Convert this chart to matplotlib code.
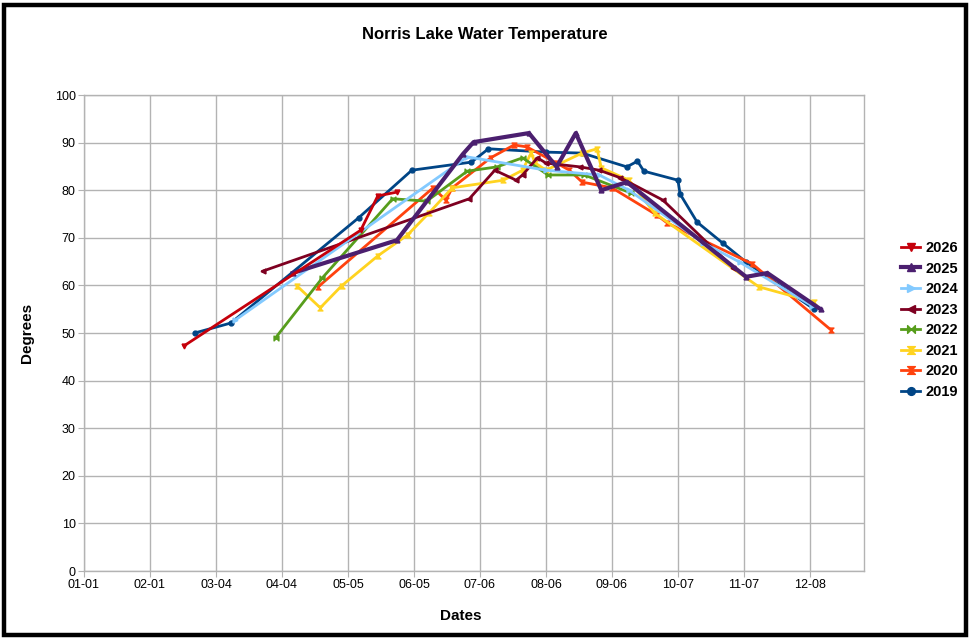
import datetime as dt
import numpy as np
import matplotlib
matplotlib.use("Agg")
import matplotlib.pyplot as plt
from matplotlib.path import Path
from matplotlib.patches import Rectangle

plt.rcParams['font.family'] = ['Liberation Sans', 'DejaVu Sans']

# day of year (0 = Jan 1) and water temperature (F) for each season
days_2019 = [52, 69, 129, 154, 182, 190, 217, 234, 255, 260, 263, 279, 280, 288, 300, 311, 343]
temp_2019 = [50.0, 52.1, 74.2, 84.2, 85.9, 88.7, 88.0, 87.8, 84.9, 86.1, 84.0, 82.1, 79.2, 73.3, 68.9, 64.9, 55.0]

days_2020 = [110, 164, 170, 173, 191, 202, 208, 222, 228, 234, 248, 269, 274, 314, 351]
temp_2020 = [59.7, 80.5, 77.9, 80.5, 86.8, 89.5, 89.1, 85.7, 84.2, 81.7, 80.5, 74.8, 73.1, 64.5, 50.6]

days_2021 = [100, 111, 121, 138, 152, 162, 173, 197, 206, 210, 212, 217, 234, 241, 243, 256, 268, 317, 343]
temp_2021 = [59.9, 55.3, 59.9, 66.2, 70.6, 75.2, 80.5, 82.1, 84.2, 87.8, 85.7, 84.2, 87.8, 88.7, 84.7, 82.1, 75.2, 59.7, 56.5]

days_2022 = [90, 112, 145, 161, 180, 194, 206, 218, 235, 257]
temp_2022 = [49.0, 61.6, 78.2, 77.7, 84.0, 84.9, 86.8, 83.2, 83.2, 79.4]

days_2023 = [84, 181, 193, 203, 206, 213, 217, 233, 242, 252, 272, 305]
temp_2023 = [63.0, 78.2, 84.2, 82.1, 83.2, 86.8, 85.7, 84.9, 84.2, 82.6, 77.9, 63.7]

days_2024 = [71, 180, 217, 242, 256, 291, 308, 342]
temp_2024 = [52.7, 87.0, 84.2, 83.2, 80.0, 68.9, 64.9, 55.7]

days_2025 = [98, 147, 178, 183, 209, 222, 231, 243, 255, 311, 321, 346]
temp_2025 = [62.6, 69.5, 87.6, 90.1, 92.0, 84.9, 92.0, 80.0, 81.7, 61.8, 62.6, 55.0]

days_2026 = [47, 130, 138, 147]
temp_2026 = [47.3, 71.6, 78.8, 79.6]

years = ["2019", "2020", "2021", "2022", "2023", "2024", "2025", "2026"]
colors = ["#004586", "#ff420e", "#ffd320", "#579d1c", "#7e0021", "#83caff", "#4b1f6f", "#c5000b"]

# custom marker shapes (hourglass / bowtie like the spreadsheet symbols)
hourglass = Path([(-1, 1), (1, 1), (-1, -1), (1, -1), (-1, 1)],
                 [Path.MOVETO, Path.LINETO, Path.LINETO, Path.LINETO, Path.CLOSEPOLY])
bowtie = Path([(-1, 1), (-1, -1), (1, 1), (1, -1), (-1, 1)],
              [Path.MOVETO, Path.LINETO, Path.LINETO, Path.LINETO, Path.CLOSEPOLY])
markers = ["o", hourglass, hourglass, bowtie, "<", ">", "^", "v"]

series = [
    (days_2019, temp_2019), (days_2020, temp_2020), (days_2021, temp_2021),
    (days_2022, temp_2022), (days_2023, temp_2023), (days_2024, temp_2024),
    (days_2025, temp_2025), (days_2026, temp_2026),
]

fig = plt.figure(figsize=(9.72, 6.4), dpi=100)
ax = fig.add_axes([84 / 972, 1 - 571 / 640, 780 / 972, 476 / 640])

lines = {}
for year, (x, y), c, m in zip(years, series, colors, markers):
    lw = 3.0 if year == "2025" else 2.0
    ln, = ax.plot(x, y, color=c, lw=lw, marker=m, markersize=3.5,
                  markeredgecolor=c, markerfacecolor=c, label=year)
    lines[year] = ln

# x ticks every 31 days starting Jan 1
tick_days = np.arange(0, 342, 31)
base = dt.date(2019, 1, 1)
tick_labels = [(base + dt.timedelta(days=int(d))).strftime("%m-%d") for d in tick_days]
ax.set_xticks(tick_days)
ax.set_xticklabels(tick_labels)
ax.set_xlim(0, 366.4)
ax.set_ylim(0, 100)
ax.set_yticks(np.arange(0, 101, 10))

ax.grid(True, color="#b3b3b3", lw=1.0)
ax.set_axisbelow(True)
for s in ax.spines.values():
    s.set_color("#b3b3b3")
    s.set_linewidth(1.0)
ax.tick_params(axis="both", colors="#b3b3b3", length=4, labelsize=9,
               labelcolor="black", pad=2)

fig.text(485 / 972, 1 - 34 / 640, "Norris Lake Water Temperature",
         ha="center", va="center", fontsize=12, fontweight="bold")
fig.text(461 / 972, 1 - 616 / 640, "Dates", ha="center", va="center",
         fontsize=11, fontweight="bold")
fig.text(27 / 972, 1 - 333 / 640, "Degrees", ha="center", va="center",
         rotation=90, fontsize=11, fontweight="bold")

order = years[::-1]
leg = fig.legend([lines[y] for y in order], order, loc="center left",
                 bbox_to_anchor=(888 / 972, 1 - 320 / 640), frameon=False,
                 prop={"weight": "bold", "size": 10.5}, handlelength=1.3,
                 handletextpad=0.4, labelspacing=0.45, markerscale=1.6)

# thick black frame around the chart
fig.patches.append(Rectangle((4 / 972, 5 / 640), 962 / 972, 630 / 640,
                             transform=fig.transFigure, fill=False,
                             edgecolor="black", lw=3.2))

fig.savefig("out.png", dpi=100)
